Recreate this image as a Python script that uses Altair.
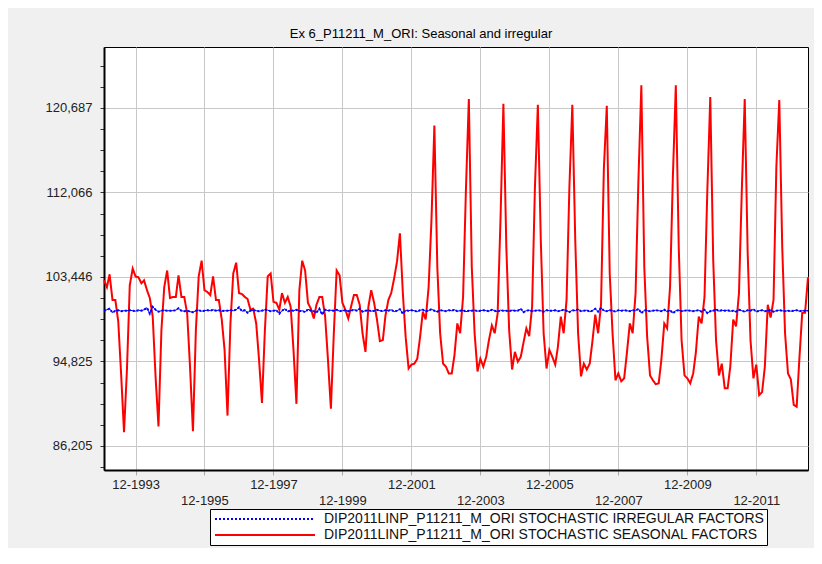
import altair as alt
import pandas as pd

# ---------------- data ----------------
seasonal = [
    103.1, 102.4, 103.7, 101.1, 101.1, 98.9, 93.6, 87.6, 94.0, 102.6, 104.3, 103.5,   # 1993
    103.4, 102.8, 103.1, 102.1, 101.3, 99.4, 93.3, 88.2, 98.0, 102.4, 104.1, 101.3,   # 1994
    101.4, 101.4, 103.6, 101.4, 101.4, 99.7, 94.3, 87.7, 98.0, 103.5, 105.1, 102.1,   # 1995
    101.9, 101.6, 103.5, 101.1, 101.1, 99.1, 96.0, 89.3, 98.7, 103.8, 104.9, 101.8,   # 1996
    101.7, 101.4, 101.2, 100.1, 100.2, 98.7, 95.0, 90.6, 98.0, 103.5, 103.8, 100.9,   # 1997
    100.8, 100.1, 101.8, 100.8, 101.4, 100.4, 96.0, 90.5, 102.1, 105.1, 104.1, 100.8, # 1998
    100.2, 99.2, 100.6, 101.4, 101.4, 99.4, 95.0, 90.0, 97.7, 104.1, 103.6, 100.8,    # 1999
    100.1, 99.2, 100.4, 101.6, 101.6, 100.6, 97.7, 95.8, 100.4, 102.1, 100.8, 99.1,   # 2000
    96.9, 97.0, 99.5, 101.1, 101.8, 103.3, 105.0, 107.9, 101.8, 97.3, 94.1, 94.5,     # 2001
    94.6, 95.1, 97.2, 99.9, 99.1, 102.4, 109.2, 118.9, 104.5, 97.7, 94.6, 94.3,       # 2002
    93.6, 93.6, 95.4, 98.7, 97.7, 101.4, 112.3, 121.6, 104.5, 97.7, 93.8, 95.1,       # 2003
    94.3, 95.3, 97.0, 98.5, 97.7, 99.7, 109.2, 121.1, 106.5, 98.0, 94.0, 95.8,        # 2004
    94.8, 95.3, 96.7, 98.2, 97.4, 100.4, 112.6, 121.0, 107.2, 97.7, 94.1, 96.0,       # 2005
    95.3, 94.5, 96.3, 99.4, 97.7, 101.1, 112.6, 121.0, 107.2, 97.7, 93.3, 94.6,       # 2006
    94.0, 94.6, 96.8, 99.6, 97.7, 100.6, 114.5, 120.9, 103.8, 97.7, 92.9, 93.6,       # 2007
    92.8, 93.1, 95.7, 98.7, 97.7, 101.8, 113.3, 123.0, 104.5, 97.4, 93.4, 92.9,       # 2008
    92.5, 92.6, 95.0, 98.7, 98.2, 102.4, 113.7, 123.0, 106.5, 97.0, 93.4, 93.1,       # 2009
    92.6, 93.6, 95.7, 99.4, 98.7, 101.4, 112.3, 121.8, 105.2, 97.0, 93.4, 94.6,       # 2010
    92.1, 92.1, 94.3, 99.1, 98.4, 101.8, 112.3, 121.6, 105.9, 97.0, 93.1, 94.5,       # 2011
    91.4, 91.7, 94.3, 100.6, 99.3, 101.1, 114.7, 121.5, 106.5, 97.7, 93.6, 93.0,      # 2012
    90.4, 90.2, 95.0, 99.8, 99.8, 103.4,                                              # 2013
]

irregular = [
    100.0, 100.1, 100.2, 99.8, 100.0, 100.05, 99.95, 100.0, 100.0, 100.05, 100.0, 99.95,
    100.05, 100.0, 100.1, 100.3, 99.7, 100.4, 100.1, 99.9, 100.0, 100.05, 100.0, 100.0,
    100.0, 100.05, 100.25, 100.0, 99.95, 100.0, 99.9, 99.85, 100.0, 100.05, 99.95, 100.0,
    100.05, 100.0, 100.1, 100.0, 100.05, 99.95, 100.0, 100.0, 100.05, 100.0, 100.1, 100.35,
    99.95, 100.05, 99.8, 100.0, 100.05, 100.0, 99.95, 100.0, 100.1, 100.05, 99.95, 100.0,
    100.05, 99.7, 100.0, 100.2, 99.9, 100.05, 100.0, 100.1, 99.95, 100.0, 99.85, 100.15,
    100.0, 99.95, 99.8, 100.2, 99.6, 100.1, 100.0, 100.05, 100.0, 100.1, 99.95, 100.0,
    100.05, 99.95, 100.0, 100.1, 100.0, 100.2, 99.9, 100.0, 100.05, 99.95, 100.0, 100.1,
    100.0, 99.95, 100.05, 100.0, 100.1, 99.9, 100.0, 100.15, 99.7, 100.05, 100.0, 100.05,
    100.0, 99.9, 100.05, 100.1, 99.95, 100.0, 100.15, 100.0, 99.9, 100.05, 100.0, 99.95,
    100.05, 100.0, 100.1, 99.95, 100.0, 100.05, 99.9, 100.0, 100.0, 100.05, 99.95, 100.0,
    100.05, 100.0, 99.95, 100.1, 100.0, 99.9, 100.05, 100.0, 100.0, 99.95, 100.05, 100.0,
    100.0, 100.2, 99.85, 100.0, 100.05, 99.95, 100.0, 100.05, 100.0, 99.9, 100.05, 100.0,
    100.0, 100.05, 99.95, 100.0, 100.1, 100.0, 99.85, 100.05, 100.0, 100.15, 99.95, 100.0,
    100.05, 99.9, 100.0, 100.2, 99.9, 100.3, 100.0, 99.95, 100.05, 100.0, 99.9, 100.05,
    100.0, 100.05, 100.0, 99.95, 100.05, 100.0, 100.2, 99.75, 100.05, 100.0, 99.95, 100.0,
    100.05, 100.0, 99.95, 100.1, 99.9, 100.05, 99.75, 100.0, 100.05, 99.95, 100.0, 100.05,
    100.0, 99.95, 100.0, 100.05, 99.9, 100.1, 99.75, 99.95, 100.0, 100.15, 99.95, 100.05,
    100.0, 100.05, 99.95, 100.0, 99.9, 100.1, 100.0, 99.9, 100.05, 100.0, 100.15, 99.9,
    100.0, 100.05, 99.95, 100.0, 100.05, 99.9, 100.0, 100.05, 100.0, 99.95, 100.0, 99.95,
    100.0, 100.05, 99.95, 100.0, 100.0, 100.0,
]

y_major = [86.205, 94.825, 103.446, 112.066, 120.687]
y_step_minor = 2.155
x_tick_years = [1993, 1995, 1997, 1999, 2001, 2003, 2005, 2007, 2009, 2011]

IRR = "DIP2011LINP_P11211_M_ORI STOCHASTIC IRREGULAR FACTORS"
SEA = "DIP2011LINP_P11211_M_ORI STOCHASTIC SEASONAL FACTORS"
TITLE = "Ex 6_P11211_M_ORI: Seasonal and irregular"

# ---------------- tables ----------------
dates = pd.date_range("1993-01-01", periods=len(seasonal), freq="MS")
df_sea = pd.DataFrame({"date": dates, "value": seasonal, "series": SEA})
df_irr = pd.DataFrame({"date": dates, "value": irregular, "series": IRR})

y_minor = []
for m in [y_major[0] - 4 * y_step_minor] + y_major:
    for j in range(1, 4):
        y_minor.append(round(m + j * y_step_minor, 3))
y_all = sorted(set([v for v in y_minor if 83.75 <= v <= 126.9] + y_major))
major_list = "[" + ",".join(str(v) for v in y_major) + "]"
is_major = f"indexof({major_list}, datum.value) >= 0"

x_values = [alt.DateTime(year=y, month=12, date=1) for y in x_tick_years]

FONT = "Liberation Sans"

x_enc = alt.X(
    "date:T",
    scale=alt.Scale(domain=[alt.DateTime(year=1993, month=1, date=1),
                            alt.DateTime(year=2013, month=6, date=1)]),
    axis=alt.Axis(
        title=None, values=x_values, format="%m-%Y",
        labelFont=FONT, labelFontSize=13, labelColor="#222222",
        labelPadding={"condition": {"test": "year(datum.value) % 4 == 3", "value": 19}, "value": 3},
        labelFlush=False, labelOverlap=False,
        tickSize=5, tickColor="#aaaaaa", tickWidth=1,
        domainColor="black", domainWidth=2,
        grid=True, gridColor="#c8c8c8", gridWidth=1,
    ),
)

y_enc = alt.Y(
    "value:Q",
    scale=alt.Scale(domain=[83.75, 126.9], nice=False, zero=False),
    axis=alt.Axis(
        title=None, values=y_all,
        labelExpr=f"{is_major} ? replace(format(datum.value, '.3f'), '.', ',') : ''",
        labelFont=FONT, labelFontSize=13, labelColor="#222222", labelPadding=8,
        tickSize=4, tickColor="#333333", tickWidth=1,
        domainColor="black", domainWidth=2,
        grid=True, gridColor="#c8c8c8", gridWidth=1,
        gridOpacity={"condition": {"test": is_major, "value": 1}, "value": 0},
    ),
)

leg = alt.Legend(
    title=None, orient="none", legendX=106, legendY=462,
    symbolType="M-10,0H10", symbolSize=100, symbolStrokeWidth=2,
    symbolOffset=45, labelOffset=52,
    labelFont=FONT, labelFontSize=14, labelColor="#111111", labelLimit=800,
    strokeColor="black", fillColor="white", padding=3, rowPadding=2,
)

color = alt.Color("series:N", scale=alt.Scale(domain=[IRR, SEA], range=["#0000ff", "#ff0000"]), legend=leg)
dash = alt.StrokeDash("series:N", scale=alt.Scale(domain=[IRR, SEA], range=[[2, 2], [1, 0]]), legend=leg)

red = alt.Chart(df_sea).mark_line(strokeWidth=2).encode(x=x_enc, y=y_enc, color=color, strokeDash=dash)
blue_base = alt.Chart(df_irr).mark_line(strokeWidth=1, color="#0000ff").encode(x=x_enc, y=y_enc)
blue = alt.Chart(df_irr).mark_line(strokeWidth=2).encode(x=x_enc, y=y_enc, color=color, strokeDash=dash)

chart = alt.layer(red, blue_base, blue).properties(
    width=704, height=423,
    autosize=alt.AutoSizeParams(type="none"),
    padding={"left": 96, "top": 39, "right": 6, "bottom": 78},
    title=alt.TitleParams(TITLE, font=FONT, fontSize=13, fontWeight="normal", color="black",
                          offset=6, dx=-35),
).configure(background="#f0f0f0").configure_view(fill="white", stroke="black", strokeWidth=1)

chart.save("out.html", embed_options={"renderer": "svg", "actions": False})
